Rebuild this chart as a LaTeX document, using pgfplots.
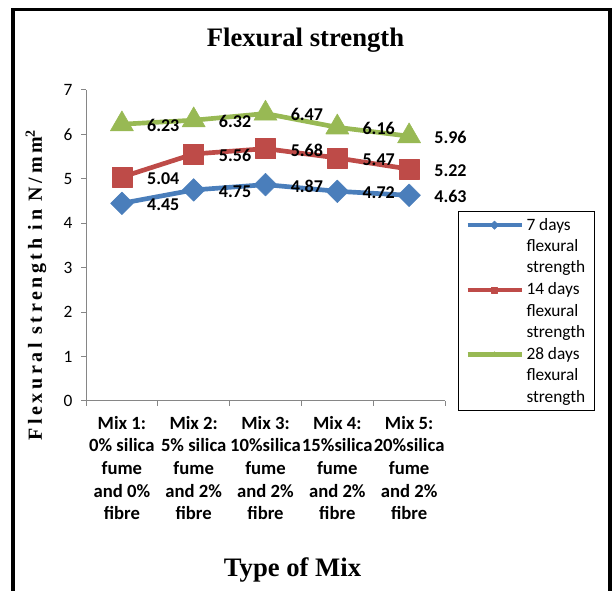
\documentclass[border=0pt]{standalone}
\usepackage{pgfplots}
\pgfplotsset{compat=1.18}
\usepackage{fontspec}
\setmainfont{Carlito}
\newfontfamily\headfont{Liberation Serif}
\newfontfamily\spacedhead[LetterSpace=18]{Liberation Serif}

\definecolor{sevend}{HTML}{4A7EBB}
\definecolor{fourteend}{HTML}{BE4B48}
\definecolor{twentyeightd}{HTML}{98B954}
\definecolor{axgray}{HTML}{868686}

\begin{document}
\begin{tikzpicture}
\useasboundingbox (0,0) rectangle (462pt,443.25pt);
% outer frame (open at the bottom)
\draw[line width=2.5pt] (9.75pt,-5pt) -- (9.75pt,436pt) -- (457.5pt,436pt) -- (457.5pt,-5pt);

\node[anchor=base, font=\headfont\bfseries\fontsize{20}{24}\selectfont] at (229.1pt,408pt) {Flexural strength};
\node[anchor=base, font=\headfont\bfseries\fontsize{20}{24}\selectfont] at (219.4pt,10.5pt) {Type of Mix};
\node[rotate=90, font=\spacedhead\bfseries\fontsize{15}{18}\selectfont] at (27pt,229.5pt) {Flexural strength in N/mm\textsuperscript{2}};

\begin{axis}[
  at={(64.5pt,142.5pt)}, anchor=south west,
  scale only axis, width=269.25pt, height=233.25pt,
  xmin=-0.5, xmax=4.5, ymin=0, ymax=7,
  axis lines=left,
  axis line style={-, draw=axgray, line width=0.75pt},
  tick align=outside,
  xtick={0,1,2,3,4},
  xticklabels={
    {Mix 1:\\0\% silica\\fume\\and 0\%\\fibre},
    {Mix 2:\\5\% silica\\fume\\and 2\%\\fibre},
    {Mix 3:\\10\%silica\\fume\\and 2\%\\fibre},
    {Mix 4:\\15\%silica\\fume\\and 2\%\\fibre},
    {Mix 5:\\20\%silica\\fume\\and 2\%\\fibre}},
  major x tick style={draw=none},
  minor xtick={-0.5,0.5,1.5,2.5,3.5,4.5},
  minor x tick style={draw=axgray, line width=0.75pt},
  minor tick length=3.75pt,
  ytick={0,1,2,3,4,5,6,7},
  y tick style={draw=axgray, line width=0.75pt},
  major tick length=3.75pt,
  /pgf/number format/assume math mode=true,
  yticklabel style={font=\fontsize{13}{15}\selectfont, xshift=-3pt},
  xticklabel style={font=\bfseries\fontsize{14}{17}\selectfont, align=center, yshift=-4pt},
  /pgf/number format/.cd, fixed, fixed zerofill, precision=2, /pgfplots/.cd,
  yticklabel={\pgfmathprintnumber[precision=0,fixed zerofill=false]{\tick}},
  every axis plot/.append style={line width=3.5pt, line join=round},
  nodes near coords,
  every node near coord/.append style={anchor=west, xshift=18.75pt, yshift=-1pt, inner sep=0pt, text=black, font=\bfseries\fontsize{13.5}{16}\selectfont},
  legend style={at={(1.0362,0.611)}, anchor=north west, draw=black, line width=0.75pt,
    font=\fontsize{13}{16}\selectfont, cells={align=left, anchor=west},
    inner xsep=5pt, inner ysep=3pt, row sep=2pt},
  % sample line sits level with the first line of each three-line entry
  legend image code/.code={
    \path[draw=none] (0pt,-16pt) -- (0pt,17pt);
    \draw[mark repeat=2, mark phase=2, #1, mark size=2.2pt] plot coordinates {(0pt,16pt) (20.25pt,16pt) (40.5pt,16pt)};
  },
]
\addplot[color=sevend, mark=square*, mark size=6pt, mark options={rotate=45, line width=0.4pt}]
  coordinates {(0,4.45) (1,4.75) (2,4.87) (3,4.72) (4,4.63)};
\addplot[color=fourteend, mark=square*, mark size=7.5pt, mark options={line width=0.4pt}]
  coordinates {(0,5.04) (1,5.56) (2,5.68) (3,5.47) (4,5.22)};
\addplot[color=twentyeightd, mark=triangle*, mark size=10pt, mark options={line width=0.4pt}]
  coordinates {(0,6.23) (1,6.32) (2,6.47) (3,6.16) (4,5.96)};
\legend{{7 days\\flexural\\strength},{14 days\\flexural\\strength},{28 days\\flexural\\strength}}
\end{axis}
\end{tikzpicture}
\end{document}
